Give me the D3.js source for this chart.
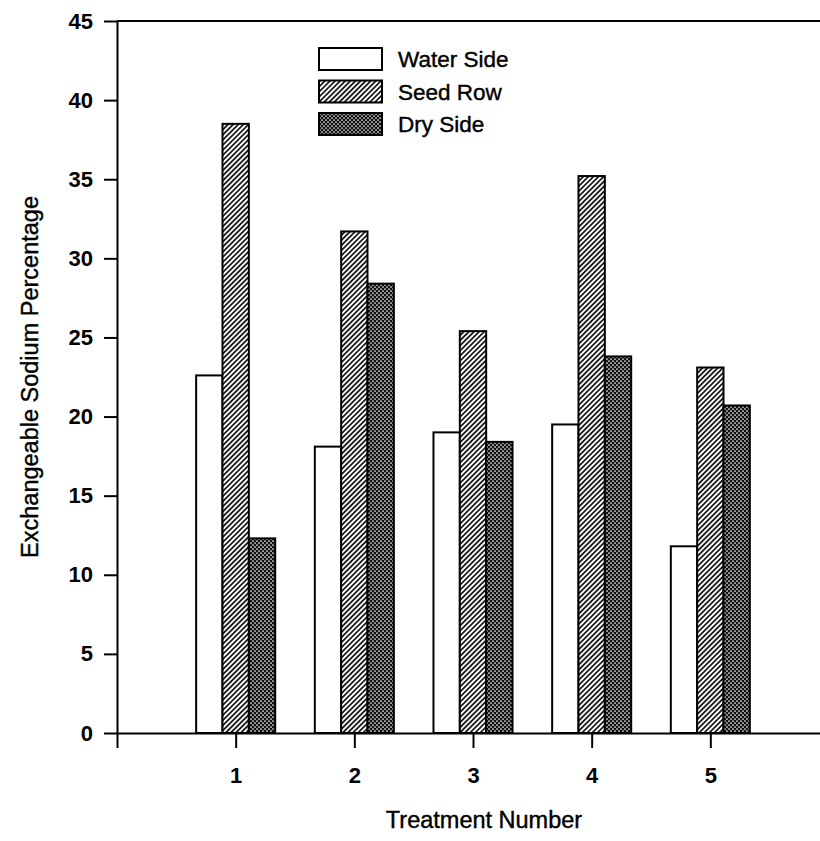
<!DOCTYPE html>
<html>
<head>
<meta charset="utf-8">
<script src="https://cdn.jsdelivr.net/npm/d3@7"></script>
<style>
  body { margin: 0; background: #fff; }
  svg { display: block; }
  text { font-family: "Liberation Sans", Arial, sans-serif; fill: #000; }
</style>
</head>
<body>
<div id="chart"></div>
<script>
// values
var treatments = [1, 2, 3, 4, 5];
var waterSide = [22.6, 18.1, 19.0, 19.5, 11.8];
var seedRow   = [38.5, 31.7, 25.4, 35.2, 23.1];
var drySide   = [12.3, 28.4, 18.4, 23.8, 20.7];
var seriesNames = ['Water Side', 'Seed Row', 'Dry Side'];
var yTicks = [0, 5, 10, 15, 20, 25, 30, 35, 40, 45];

var width = 820,
    height = 841;

var x = d3.scaleLinear().domain([0, 6]).range([117, 829]);
var y = d3.scaleLinear().domain([0, 45]).range([733, 21]);

var svg = d3.select('#chart').append('svg')
    .attr('width', width)
    .attr('height', height);

var defs = svg.append('defs');

// diagonal hatch for seed row
var hatch = defs.append('pattern')
    .attr('id', 'hatch')
    .attr('patternUnits', 'userSpaceOnUse')
    .attr('width', 3.6)
    .attr('height', 3.6)
    .attr('patternTransform', 'rotate(45)');
hatch.append('rect').attr('width', 3.6).attr('height', 3.6).attr('fill', '#fff');
hatch.append('line')
    .attr('x1', 0.9).attr('y1', 0).attr('x2', 0.9).attr('y2', 3.6)
    .attr('stroke', '#000').attr('stroke-width', 1.6);

// dark dotted fill for dry side
var dots = defs.append('pattern')
    .attr('id', 'dots')
    .attr('patternUnits', 'userSpaceOnUse')
    .attr('width', 4)
    .attr('height', 4);
dots.append('rect').attr('width', 4).attr('height', 4).attr('fill', '#111');
dots.append('circle').attr('cx', 1).attr('cy', 1).attr('r', 0.85).attr('fill', '#fff');
dots.append('circle').attr('cx', 3).attr('cy', 3).attr('r', 0.85).attr('fill', '#fff');

var fills = ['#fff', 'url(#hatch)', 'url(#dots)'];
var allSeries = [waterSide, seedRow, drySide];

var step = x(1) - x(0);
var barW = step * 0.222;

var groups = svg.selectAll('g.group')
    .data(treatments)
    .enter().append('g')
    .attr('class', 'group');

groups.selectAll('rect')
    .data(function (t, i) {
        return allSeries.map(function (s, k) { return {k: k, v: s[i], t: t}; });
    })
    .enter().append('rect')
    .attr('x', function (d) { return x(d.t) - 1.5 * barW + d.k * barW; })
    .attr('y', function (d) { return y(d.v); })
    .attr('width', barW)
    .attr('height', function (d) { return y(0) - y(d.v); })
    .attr('fill', function (d) { return fills[d.k]; })
    .attr('stroke', '#000')
    .attr('stroke-width', 2);

// y axis
var yAxis = svg.append('g')
    .attr('transform', 'translate(117,0)')
    .call(d3.axisLeft(y).tickValues(yTicks).tickSize(13).tickSizeOuter(0).tickPadding(11));

// x axis
var xAxis = svg.append('g')
    .attr('transform', 'translate(0,733)')
    .call(d3.axisBottom(x).tickValues([0, 1, 2, 3, 4, 5, 6]).tickSize(15).tickSizeOuter(0).tickPadding(19)
        .tickFormat(function (d) { return (d > 0 && d < 6) ? d : ''; }));

[yAxis, xAxis].forEach(function (a) {
    a.attr('font-family', null).attr('font-size', null);
    a.select('.domain').attr('stroke', '#000').attr('stroke-width', 2);
    a.selectAll('.tick line').attr('stroke', '#000').attr('stroke-width', 2);
    a.selectAll('.tick text')
        .style('font-size', '22px')
        .style('font-weight', 'bold')
        .attr('fill', '#000');
});

// top frame line
svg.append('line')
    .attr('x1', x(0)).attr('x2', x(6))
    .attr('y1', y(45)).attr('y2', y(45))
    .attr('stroke', '#000').attr('stroke-width', 2);

// axis titles
svg.append('text')
    .attr('x', 484)
    .attr('y', 828)
    .attr('text-anchor', 'middle')
    .style('font-size', '23.5px')
    .style('stroke', '#000')
    .style('stroke-width', 0.4)
    .text('Treatment Number');

svg.append('text')
    .attr('transform', 'translate(38,377) rotate(-90)')
    .attr('text-anchor', 'middle')
    .style('font-size', '23.5px')
    .style('stroke', '#000')
    .style('stroke-width', 0.4)
    .text('Exchangeable Sodium Percentage');

// legend
var legend = svg.append('g').attr('transform', 'translate(319,48)');
var items = legend.selectAll('g')
    .data(seriesNames)
    .enter().append('g')
    .attr('transform', function (d, i) { return 'translate(0,' + i * 32.5 + ')'; });
items.append('rect')
    .attr('width', 63)
    .attr('height', 22)
    .attr('fill', function (d, i) { return fills[i]; })
    .attr('stroke', '#000')
    .attr('stroke-width', 2);
items.append('text')
    .attr('x', 79)
    .attr('y', 19)
    .style('font-size', '22.5px')
    .style('stroke', '#000')
    .style('stroke-width', 0.4)
    .text(function (d) { return d; });
</script>
</body>
</html>
